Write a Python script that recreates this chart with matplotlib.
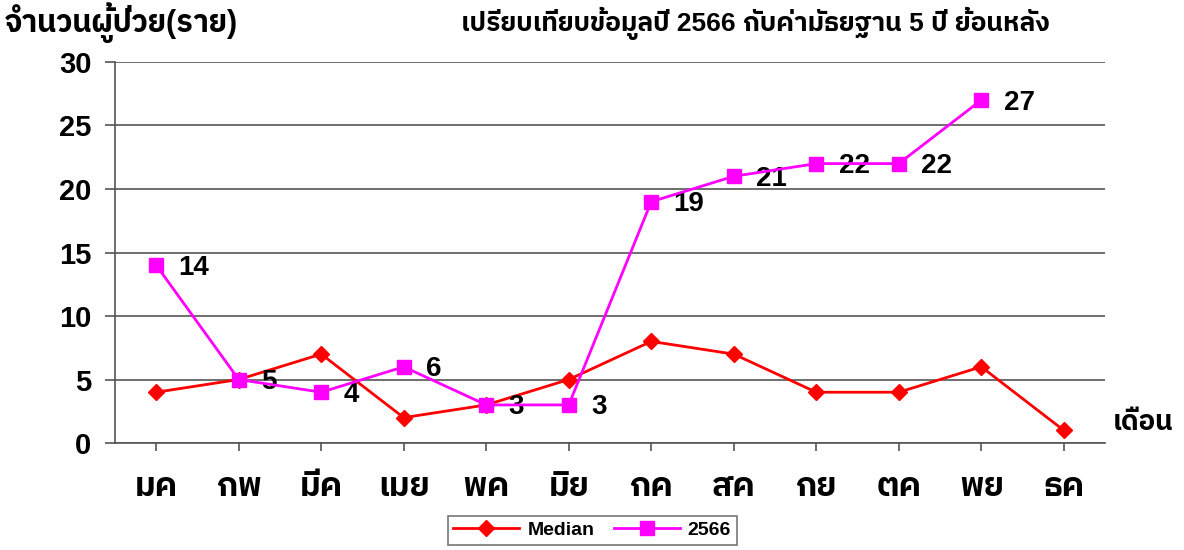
import matplotlib
matplotlib.use('Agg')
import matplotlib.pyplot as plt

months = ['มค', 'กพ', 'มีค', 'เมย', 'พค', 'มิย', 'กค', 'สค', 'กย', 'ตค', 'พย', 'ธค']
median = [4, 5, 7, 2, 3, 5, 8, 7, 4, 4, 6, 1]
y2566 = [14, 5, 4, 6, 3, 3, 19, 21, 22, 22, 27]
yticks = [0, 5, 10, 15, 20, 25, 30]

fonts = ['Liberation Sans', 'IBM Plex Sans Thai', 'Sarabun', 'DejaVu Sans']
plt.rcParams['font.family'] = fonts
plt.rcParams['font.weight'] = 'bold'

fig = plt.figure(figsize=(11.84, 5.5), dpi=100)
ax = fig.add_axes([0.0971, 0.1945, 0.8362, 0.6928])

x = list(range(len(months)))
ax.plot(x, median, color='#ff0000', lw=2, marker='D', ms=8, label='Median', zorder=3)
ax.plot(x[:len(y2566)], y2566, color='#ff00ff', lw=2, marker='s', ms=10, label='2566', zorder=4)

for i, v in enumerate(y2566):
    ax.text(i + 0.27, v - 0.2, str(v), fontsize=20, fontweight='bold', va='center', ha='left')

ax.set_xlim(-0.5, 11.5)
ax.set_ylim(0, 30)
ax.set_yticks(yticks)
ax.set_yticklabels([str(t) for t in yticks], fontsize=21, fontweight='bold')
ax.set_xticks(x)
ax.set_xticklabels(months, fontsize=24, fontweight='bold')
ax.tick_params(axis='y', length=7, width=1.2, color='#555555', pad=10)
ax.tick_params(axis='x', length=6, width=1.2, color='#555555', pad=15)
ax.grid(axis='y', color='#555555', lw=1.2)
ax.set_axisbelow(True)
for s in ['top', 'right']:
    ax.spines[s].set_visible(False)
for s in ['left', 'bottom']:
    ax.spines[s].set_color('#555555')
    ax.spines[s].set_linewidth(1.2)

fig.text(0.004, 0.958, 'จำนวนผู้ป่วย(ราย)', fontsize=22, fontweight='bold', ha='left', va='center')
fig.text(0.638, 0.958, 'เปรียบเทียบข้อมูลปี 2566 กับค่ามัธยฐาน 5 ปี ย้อนหลัง', fontsize=19,
         fontweight='bold', ha='center', va='center')
fig.text(0.94, 0.23, 'เดือน', fontsize=20, fontweight='bold', ha='left', va='center')

leg = ax.legend(loc='upper center', bbox_to_anchor=(0.482, -0.165), ncol=2, fontsize=14,
                frameon=True, fancybox=False, edgecolor='#555555', handlelength=3.4,
                borderpad=0.3, columnspacing=1.0, handletextpad=0.4)
leg.get_frame().set_linewidth(1.2)

fig.savefig('out.png', dpi=100)
